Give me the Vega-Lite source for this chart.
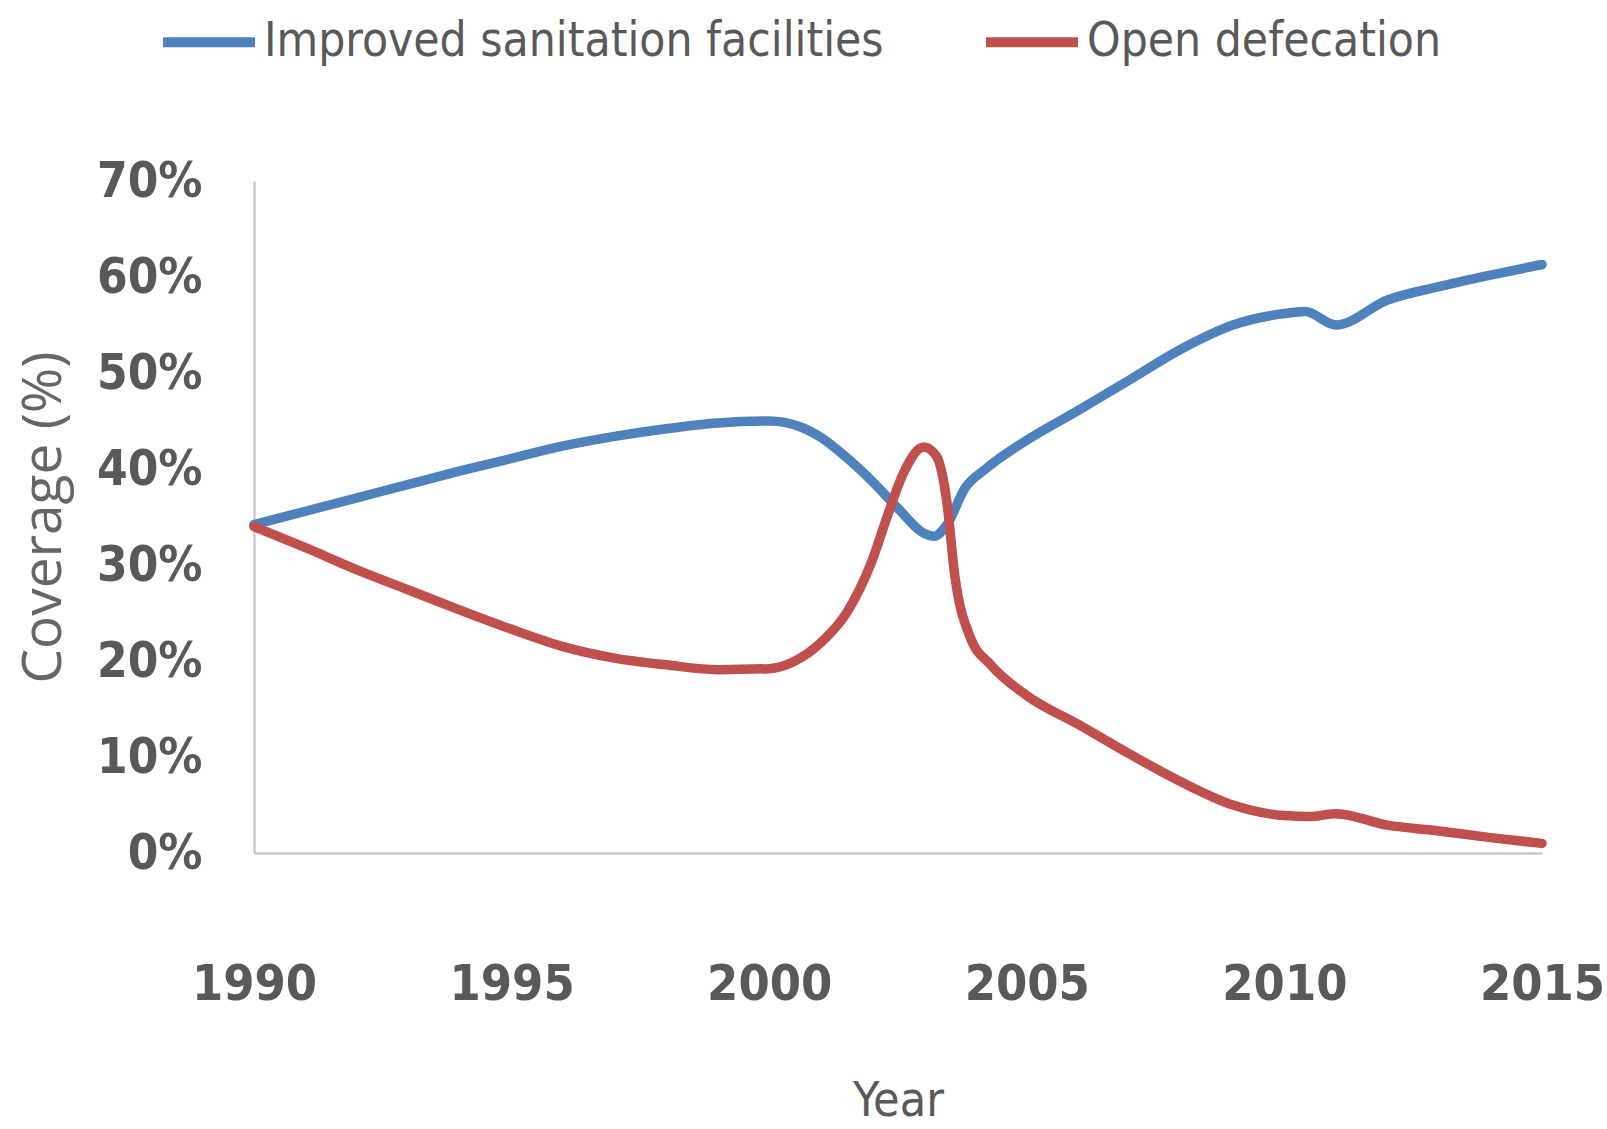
{
  "$schema": "https://vega.github.io/schema/vega-lite/v6.json",
  "autosize": {"type": "none"},
  "width": 1288,
  "height": 672,
  "padding": {"left": 254, "top": 181, "right": 65, "bottom": 276},
  "background": "white",
  "config": {"view": {"stroke": null}},
  "data": {
    "values": [
      {"series": "Improved sanitation facilities", "year": 1990, "value": 34.2},
      {"series": "Improved sanitation facilities", "year": 1991, "value": 35.6},
      {"series": "Improved sanitation facilities", "year": 1992, "value": 37.0},
      {"series": "Improved sanitation facilities", "year": 1993, "value": 38.4},
      {"series": "Improved sanitation facilities", "year": 1994, "value": 39.8},
      {"series": "Improved sanitation facilities", "year": 1995, "value": 41.1},
      {"series": "Improved sanitation facilities", "year": 1996, "value": 42.4},
      {"series": "Improved sanitation facilities", "year": 1997, "value": 43.4},
      {"series": "Improved sanitation facilities", "year": 1998, "value": 44.2},
      {"series": "Improved sanitation facilities", "year": 1999, "value": 44.8},
      {"series": "Improved sanitation facilities", "year": 2000, "value": 45.0},
      {"series": "Improved sanitation facilities", "year": 2000.6, "value": 44.4},
      {"series": "Improved sanitation facilities", "year": 2001, "value": 43.3},
      {"series": "Improved sanitation facilities", "year": 2001.5, "value": 41.2},
      {"series": "Improved sanitation facilities", "year": 2002, "value": 38.7},
      {"series": "Improved sanitation facilities", "year": 2002.5, "value": 35.9},
      {"series": "Improved sanitation facilities", "year": 2003, "value": 33.3},
      {"series": "Improved sanitation facilities", "year": 2003.2, "value": 33.0},
      {"series": "Improved sanitation facilities", "year": 2003.45, "value": 34.2},
      {"series": "Improved sanitation facilities", "year": 2003.8, "value": 38.0},
      {"series": "Improved sanitation facilities", "year": 2004.2, "value": 40.0},
      {"series": "Improved sanitation facilities", "year": 2005, "value": 43.0},
      {"series": "Improved sanitation facilities", "year": 2006, "value": 46.1},
      {"series": "Improved sanitation facilities", "year": 2007, "value": 49.3},
      {"series": "Improved sanitation facilities", "year": 2008, "value": 52.5},
      {"series": "Improved sanitation facilities", "year": 2009, "value": 55.0},
      {"series": "Improved sanitation facilities", "year": 2010, "value": 56.2},
      {"series": "Improved sanitation facilities", "year": 2010.4, "value": 56.4},
      {"series": "Improved sanitation facilities", "year": 2011, "value": 55.0},
      {"series": "Improved sanitation facilities", "year": 2012, "value": 57.6},
      {"series": "Improved sanitation facilities", "year": 2013, "value": 59.0},
      {"series": "Improved sanitation facilities", "year": 2014, "value": 60.2},
      {"series": "Improved sanitation facilities", "year": 2015, "value": 61.3},
      {"series": "Open defecation", "year": 1990, "value": 34.0},
      {"series": "Open defecation", "year": 1991, "value": 31.8},
      {"series": "Open defecation", "year": 1992, "value": 29.5},
      {"series": "Open defecation", "year": 1993, "value": 27.4},
      {"series": "Open defecation", "year": 1994, "value": 25.3},
      {"series": "Open defecation", "year": 1995, "value": 23.3},
      {"series": "Open defecation", "year": 1996, "value": 21.5},
      {"series": "Open defecation", "year": 1997, "value": 20.3},
      {"series": "Open defecation", "year": 1998, "value": 19.6},
      {"series": "Open defecation", "year": 1999, "value": 19.1},
      {"series": "Open defecation", "year": 2000, "value": 19.2},
      {"series": "Open defecation", "year": 2000.5, "value": 20.0},
      {"series": "Open defecation", "year": 2001, "value": 21.9},
      {"series": "Open defecation", "year": 2001.5, "value": 25.0},
      {"series": "Open defecation", "year": 2002, "value": 30.5},
      {"series": "Open defecation", "year": 2002.3, "value": 35.2},
      {"series": "Open defecation", "year": 2002.6, "value": 39.5},
      {"series": "Open defecation", "year": 2003, "value": 42.3},
      {"series": "Open defecation", "year": 2003.25, "value": 41.3},
      {"series": "Open defecation", "year": 2003.45, "value": 36.5},
      {"series": "Open defecation", "year": 2003.6, "value": 29.0},
      {"series": "Open defecation", "year": 2003.9, "value": 22.5},
      {"series": "Open defecation", "year": 2004.3, "value": 19.6},
      {"series": "Open defecation", "year": 2005, "value": 16.4},
      {"series": "Open defecation", "year": 2006, "value": 13.4},
      {"series": "Open defecation", "year": 2007, "value": 10.3},
      {"series": "Open defecation", "year": 2008, "value": 7.4},
      {"series": "Open defecation", "year": 2009, "value": 5.0},
      {"series": "Open defecation", "year": 2010, "value": 3.9},
      {"series": "Open defecation", "year": 2010.5, "value": 3.8},
      {"series": "Open defecation", "year": 2011, "value": 4.1},
      {"series": "Open defecation", "year": 2012, "value": 2.9},
      {"series": "Open defecation", "year": 2013, "value": 2.3},
      {"series": "Open defecation", "year": 2014, "value": 1.6},
      {"series": "Open defecation", "year": 2015, "value": 1.0}
    ]
  },
  "mark": {"type": "line", "strokeWidth": 9.5, "interpolate": "monotone", "strokeCap": "round"},
  "encoding": {
    "x": {
      "field": "year",
      "type": "quantitative",
      "scale": {"domain": [1990, 2015], "nice": false, "zero": false},
      "axis": {
        "values": [1990, 1995, 2000, 2005, 2010, 2015],
        "format": "d",
        "grid": false,
        "ticks": false,
        "domainColor": "#BFBFBF",
        "domainWidth": 2,
        "labelFont": "'DejaVu Sans Condensed', 'Liberation Sans'",
        "labelFontWeight": "bold",
        "labelFontSize": 50,
        "labelColor": "#595959",
        "labelBaseline": "alphabetic",
        "labelPadding": 146,
        "labelFlush": false,
        "labelOverlap": false,
        "title": "Year",
        "titleFont": "'DejaVu Sans Condensed', 'Liberation Sans'",
        "titleFontWeight": "normal",
        "titleFontSize": 48,
        "titleColor": "#595959",
        "titleBaseline": "alphabetic",
        "titleX": 644,
        "titleY": 262,
        "titleAnchor": "middle"
      }
    },
    "y": {
      "field": "value",
      "type": "quantitative",
      "scale": {"domain": [0, 70], "nice": false},
      "axis": {
        "values": [0, 10, 20, 30, 40, 50, 60, 70],
        "labelExpr": "datum.value + '%'",
        "grid": false,
        "ticks": false,
        "domainColor": "#BFBFBF",
        "domainWidth": 2,
        "labelFont": "'DejaVu Sans Condensed', 'Liberation Sans'",
        "labelFontWeight": "bold",
        "labelFontSize": 49,
        "labelColor": "#595959",
        "labelPadding": 52,
        "labelFlush": false,
        "labelOverlap": false,
        "title": "Coverage (%)",
        "titleFont": "Open Sans",
        "titleFontWeight": "normal",
        "titleFontSize": 55,
        "titleColor": "#666666",
        "titleAngle": -90,
        "titleAlign": "center",
        "titleBaseline": "middle",
        "titleX": -211,
        "titleY": 336
      }
    },
    "color": {
      "field": "series",
      "type": "nominal",
      "scale": {
        "domain": ["Improved sanitation facilities", "Open defecation"],
        "range": ["#4F81BD", "#C0504D"]
      },
      "legend": {
        "title": null,
        "orient": "none",
        "direction": "horizontal",
        "legendX": -96,
        "legendY": -190,
        "symbolType": "stroke",
        "symbolSize": 8464,
        "symbolStrokeWidth": 10,
        "labelFont": "'DejaVu Sans Condensed', 'Liberation Sans'",
        "labelFontSize": 47.5,
        "labelColor": "#595959",
        "labelLimit": 0,
        "labelOffset": 4,
        "columnPadding": 82
      }
    }
  }
}
